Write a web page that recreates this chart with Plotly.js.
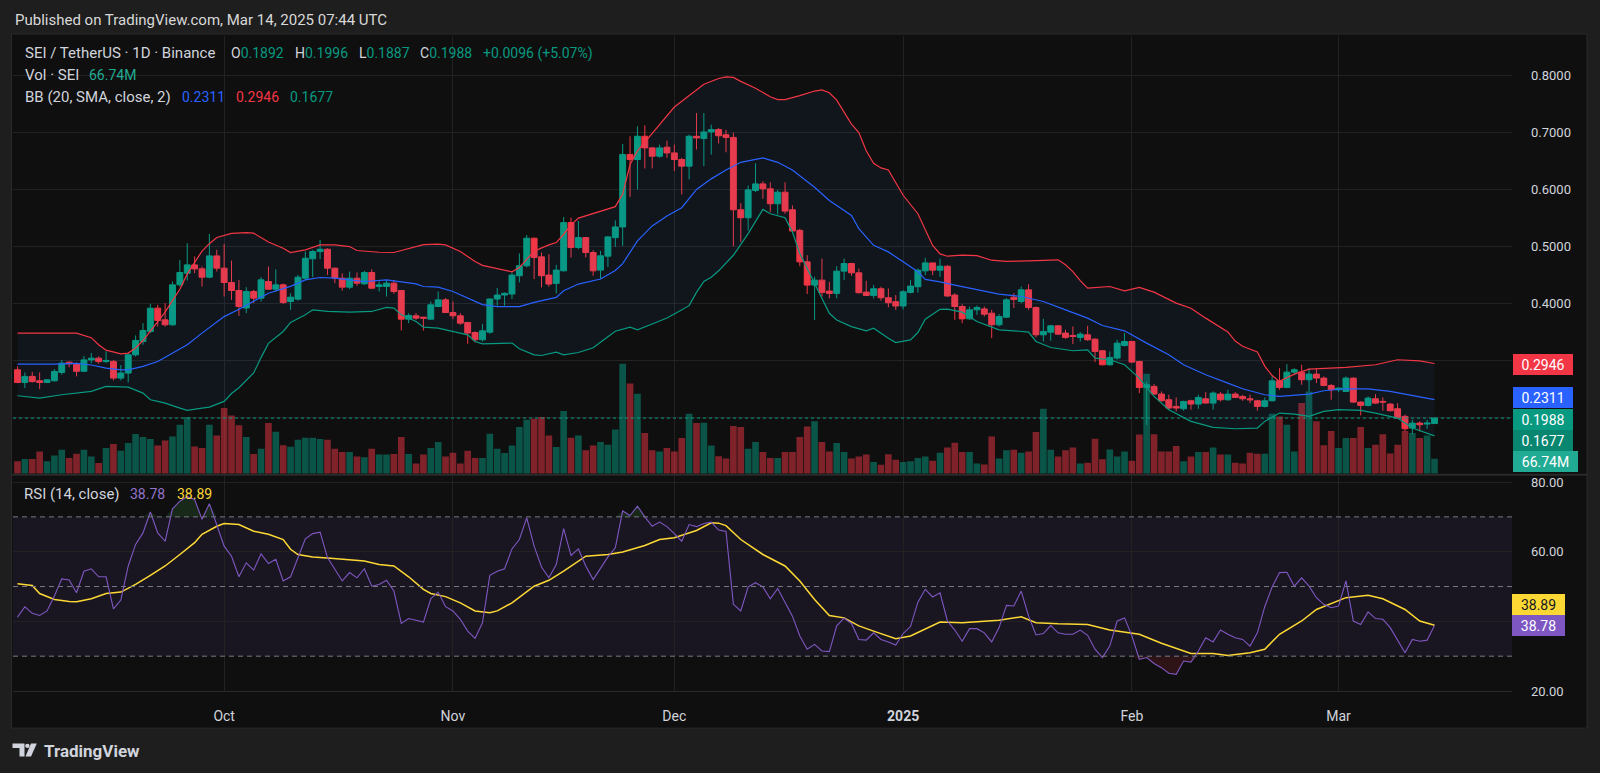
<!DOCTYPE html>
<html><head><meta charset="utf-8">
<script src="https://cdn.plot.ly/plotly-3.0.1.min.js"></script>
<style>html,body{margin:0;padding:0;background:#1e1e1e;}#chart{width:1600px;height:773px;}</style>
</head><body><div id="chart"></div>
<script>
// ---- DATA (daily candles from 2024-09-03, index = day offset) ----
const startDate = '2024-09-03';
const opens = [.2836,.2614,.272,.2643,.2614,.2643,.279,.297,.294,.281,.301,.304,.298,.298,.269,.2778,.3099,.3333,.3509,.3918,.3713,.3626,.4327,.4532,.4678,.4608,.4462,.4836,.462,.4368,.4228,
.392,.421,.4094,.4386,.4251,.4327,.4035,.4076,.4444,.4784,.4912,.4953,.462,.4444,.4287,.4444,.4345,.4544,.4298,.4298,.4357,.4228,.3725,.3784,.376,.3725,.3947,.4064,.3842,.3784,.3667,.3491,.3363,
.3496,.4079,.4149,.4166,.4487,.4662,.5146,.4819,.4499,.4353,.4574,.542,.4983,.5157,.4895,.4586,.4831,.5157,.5344,.6615,.6528,.6936,.6732,.6586,.6744,.6644,.6528,.6411,.6936,.6896,.7012,
.7053,.6963,.6916,.5646,.5506,.5984,.61,.6013,.5751,.5955,.5646,.5284,.4731,.4323,.441,.4218,.4177,.4568,.4702,.4538,.42,.4142,.4259,.4101,.4031,.3956,.4195,.4294,.4573,.4713,.4585,.4655,
.4148,.3947,.3731,.3889,.3905,.383,.3626,.376,.411,.4035,.424,.393,.345,.3497,.3608,.348,.3439,.3404,.345,.3374,.317,.2924,.3041,.3263,.3333,.2982,.2526,.2544,.241,.231,.2193,.2152,.2292,
.2234,.2327,.2251,.2409,.231,.2409,.2368,.2327,.2292,.2193,.2292,.2643,.2526,.2795,.2795,.2661,.276,.269,.2561,.2485,.2456,.269,.2269,.2211,.2327,.2281,.2234,.2152,.2018,.1813,.19,.1883,.1892];
const highs = [.2895,.279,.280,.279,.2672,.285,.301,.2982,.2965,.308,.313,.307,.316,.301,.292,.3129,.3439,.3655,.3994,.3977,.4006,.4386,.4766,.5058,.4825,.4649,.5222,.4942,.5047,.4754,.4415,
.4287,.424,.4462,.465,.460,.435,.418,.4503,.4912,.494,.5117,.497,.463,.453,.456,.4544,.4573,.460,.4386,.4415,.4415,.4228,.383,.383,.3765,.4035,.421,.4094,.4035,.383,.3667,.351,.3643,
.409,.4271,.4195,.4545,.4878,.5204,.5157,.4895,.4866,.4679,.5519,.5507,.5449,.5169,.4936,.4924,.5187,.5461,.6802,.6936,.7111,.7128,.675,.679,.686,.679,.6557,.6965,.7344,.7344,.714,
.708,.705,.70,.5762,.6071,.6462,.6147,.6129,.5995,.6129,.5722,.5313,.4847,.4469,.4789,.4381,.4655,.4789,.4714,.4614,.4399,.4323,.4294,.4265,.4148,.4235,.441,.4614,.4801,.4714,.4789,.4672,
.4181,.3988,.3947,.3965,.3947,.3889,.3813,.4094,.418,.4298,.4339,.3947,.3731,.3626,.3614,.3538,.3596,.3497,.3608,.3392,.3187,.3158,.3363,.348,.3345,.2994,.262,.2585,.2456,.2398,.2351,.2292,.231,
.2398,.2444,.2456,.2444,.2485,.2444,.2398,.2398,.231,.2351,.2719,.2865,.2936,.2865,.2924,.2865,.2865,.2719,.2585,.2526,.2719,.2702,.2281,.2368,.2409,.2351,.2251,.2251,.2047,.1959,.193,.1959,.1996];
const lows = [.2602,.2515,.261,.2497,.2602,.263,.275,.288,.272,.2795,.2953,.2942,.2953,.265,.265,.2614,.307,.3275,.348,.3596,.3596,.3608,.4298,.4404,.4532,.4298,.4444,.4561,.4123,.4064,.3784,
.383,.401,.4035,.424,.421,.399,.3889,.405,.4415,.4462,.478,.4503,.4357,.4228,.4251,.431,.4327,.4251,.421,.4123,.417,.3526,.3655,.3713,.3526,.3713,.3936,.383,.3725,.3626,.3292,.3316,.3333,
.347,.3962,.3962,.4079,.437,.4633,.4429,.4283,.4294,.4178,.4563,.4808,.4953,.4808,.4487,.4429,.4644,.4994,.5012,.5869,.6003,.637,.637,.6557,.6557,.6324,.5915,.6178,.6703,.6411,.6615,
.6811,.6654,.5005,.508,.5284,.5955,.5838,.5605,.5564,.5576,.5255,.4655,.4166,.3711,.4119,.409,.409,.441,.4486,.4177,.413,.409,.4049,.3932,.3886,.3897,.4177,.4189,.4498,.4498,.4469,.4119,
.3713,.3655,.3713,.3801,.3772,.3392,.3596,.3743,.392,.4006,.3889,.3404,.3333,.3345,.345,.338,.3287,.3333,.3345,.2971,.2912,.2906,.3012,.3246,.2953,.2427,.187,.2398,.2281,.2135,.2105,.2117,.2135,
.2152,.2251,.2135,.2281,.2292,.2339,.2292,.2251,.2117,.2175,.2281,.2485,.2515,.2749,.2573,.2456,.2602,.2544,.231,.2444,.2444,.2251,.2035,.2193,.2234,.2117,.2105,.1977,.1754,.1708,.1754,.1801,.1887];
const closes = [.2614,.272,.263,.2614,.266,.2807,.2953,.294,.281,.301,.304,.298,.300,.269,.278,.3099,.3351,.3526,.3918,.3702,.3626,.4327,.4544,.4678,.4608,.4462,.4836,.462,.4368,.4228,.3947,
.421,.4094,.4415,.4251,.4327,.4018,.4111,.4462,.4795,.4912,.4953,.462,.4444,.4287,.4444,.4357,.4544,.4269,.4327,.4357,.421,.3725,.379,.3743,.3743,.3977,.4064,.3842,.3784,.3655,.348,.3363,.352,
.4079,.4149,.4178,.4499,.4662,.5146,.4808,.4487,.4341,.4586,.542,.4983,.5157,.4895,.4574,.4837,.5169,.5344,.6615,.6528,.6936,.6732,.6586,.6732,.6644,.6528,.6411,.6936,.6907,.7012,.7053,
.6945,.6916,.5646,.5506,.5995,.61,.6013,.5751,.5955,.5622,.5273,.4731,.4323,.441,.4195,.4177,.4568,.4702,.4538,.4189,.4142,.4259,.4101,.4014,.3956,.4206,.4305,.4585,.4713,.4585,.4655,.4131,
.3947,.3731,.3889,.393,.3813,.3626,.3772,.4064,.407,.424,.393,.345,.3509,.3608,.3462,.3404,.3421,.3462,.3363,.3158,.2924,.3053,.3304,.3333,.2971,.2526,.2573,.241,.2292,.2164,.2164,.2281,.2234,
.2351,.2251,.2427,.231,.2409,.2351,.2327,.231,.2193,.2292,.2643,.2526,.2795,.2836,.2661,.276,.269,.2561,.2485,.2515,.269,.2269,.2211,.2339,.2251,.2269,.2117,.1988,.1801,.19,.1871,.19,.1988];
// volume, millions SEI
const volumes = [55,65,65,99,55,81,107,70,89,107,77,48,114,132,102,137,177,163,154,125,148,165,218,252,121,114,218,170,292,259,216,
163,88,111,226,187,126,120,151,160,160,154,151,111,97,97,76,73,111,85,85,88,163,88,45,85,114,141,76,93,45,102,70,70,
178,111,92,125,208,240,245,252,170,119,279,160,170,104,125,141,129,197,490,401,356,181,104,99,114,99,159,267,226,227,125,
78,67,212,208,111,141,97,70,70,97,97,163,210,233,141,99,137,97,67,77,85,52,40,86,62,52,55,70,77,57,93,117,
138,97,97,45,41,166,67,104,107,93,99,186,289,107,77,104,116,45,49,156,64,108,77,99,57,174,445,175,99,99,123,55,77,
97,97,116,85,85,49,45,93,89,89,267,255,218,99,315,366,233,126,190,114,159,159,208,114,129,175,90,129,190,181,159,170,66.74];
// Bollinger Bands (20, SMA, close, 2): [day offset, value]
const bbUpperDays = [0,4,8,10,11,12,14,15,16,17,18,19,20,21,22,23,24,25,26,27,29,31,32,34,36,37,39,41,43,45,46,49,51,53,55,57,58,60,62,63,65,67,68,69,70,72,73,74,75,76,78,79,81,82,83,84,86,87,89,91,93,95,96,97,98,100,102,103,104,106,108,109,110,111,112,113,114,115,116,117,118,120,122,124,125,126,128,130,132,134,137,141,142,143,144,145,148,150,152,154,157,159,161,164,165,166,168,169,170,171,173,175,180,184,187,190,192];
const bbUpper = [.348,.348,.348,.340,.3275,.318,.3117,.313,.322,.335,.352,.368,.385,.405,.425,.452,.472,.492,.505,.516,.523,.5246,.5235,.508,.497,.4895,.4942,.5029,.5029,.500,.493,.490,.4895,.4971,.5035,.5041,.503,.4912,.4737,.467,.461,.4557,.463,.478,.492,.503,.507,.5216,.538,.550,.558,.561,.570,.592,.644,.668,.698,.714,.745,.765,.785,.795,.798,.797,.790,.778,.763,.758,.758,.765,.773,.775,.770,.757,.737,.715,.700,.668,.646,.638,.6345,.590,.5576,.502,.487,.483,.485,.484,.476,.474,.475,.4766,.468,.4561,.440,.4269,.4298,.4222,.4281,.4199,.4006,.3918,.3743,.350,.334,.325,.315,.290,.2735,.2632,.276,.2848,.2877,.2924,.3012,.2994,.2946];
const bbMidDays = [0,5,8,10,12,14,15,17,19,21,23,25,27,28,30,32,34,37,39,41,43,45,47,50,51,54,55,57,59,61,63,65,68,70,73,74,76,79,81,82,83,84,86,88,90,92,94,95,96,98,101,103,105,108,110,113,114,116,118,120,122,123,125,127,129,133,136,139,142,145,147,150,153,156,158,161,164,166,169,171,175,177,180,183,186,189,192];
const bbMid = [.2936,.2936,.2950,.2920,.2865,.2836,.2836,.2895,.2982,.3129,.3275,.348,.368,.377,.390,.4035,.418,.430,.4415,.4456,.4444,.4415,.4386,.4415,.440,.4345,.4298,.4287,.421,.4094,.398,.3945,.3945,.402,.4108,.4224,.4341,.4429,.458,.470,.490,.510,.5362,.5536,.5682,.6003,.6188,.6265,.6345,.6479,.6555,.6479,.6345,.6042,.5809,.5547,.5314,.5022,.4906,.4731,.4556,.4422,.4381,.4323,.4269,.4164,.4123,.4035,.3889,.3743,.3614,.352,.3304,.3099,.2924,.2749,.2602,.2503,.2398,.2368,.2409,.2468,.2503,.250,.2456,.2386,.2311];
const bbLowerDays = [0,3,6,8,10,12,14,15,17,18,19,20,22,23,25,26,28,29,30,31,32,33,34,36,37,39,40,42,45,48,50,51,52,54,55,57,59,61,62,63,67,68,70,71,73,74,76,78,79,81,83,84,86,88,89,91,92,93,94,95,97,99,101,102,104,105,106,108,110,111,113,115,116,118,119,121,122,123,125,126,128,130,133,135,137,138,140,143,145,146,148,150,152,154,156,159,162,165,168,169,171,173,175,177,179,182,184,187,189,192];
const bbLower = [.238,.2339,.2398,.2427,.2456,.2544,.2544,.2532,.2427,.231,.2281,.2251,.2164,.2123,.2164,.2181,.2281,.242,.252,.265,.278,.305,.330,.3509,.3667,.3801,.3889,.386,.3848,.386,.393,.392,.3801,.3684,.3585,.3567,.3509,.345,.3333,.3292,.3304,.3204,.3099,.3087,.3146,.3099,.3140,.3222,.332,.3513,.3583,.3536,.3641,.3746,.3816,.3962,.4195,.4388,.4460,.4574,.4847,.5226,.5652,.5576,.5506,.5255,.4876,.4352,.3828,.3711,.3594,.3519,.3565,.339,.3315,.3361,.349,.3723,.3897,.3900,.3848,.3684,.3538,.352,.3497,.3333,.3228,.317,.3187,.3041,.3012,.2924,.269,.2368,.2135,.193,.1825,.1801,.1813,.193,.2076,.2059,.2018,.2105,.2135,.2123,.2076,.1988,.1813,.1677];
// RSI (14, close), one value per day
const rsi = [41.2,44.2,42.3,41.7,43.0,47.3,52.2,51.9,48.2,54.4,55.1,52.8,52.8,43.6,46.1,55.9,62.1,65.4,71.4,65.4,63.0,72.3,74.5,75.8,75.0,69.3,73.8,67.8,61.6,58.7,52.8,
56.8,54.7,59.4,56.6,57.8,51.6,52.8,58.5,63.7,65.2,65.6,58.3,54.9,51.6,54.0,52.5,55.1,50.1,50.6,51.8,48.7,39.4,40.8,40.4,39.8,46.5,48.4,44.2,43.0,40.6,37.2,35.1,39.6,
53.2,54.4,55.1,60.8,63.5,69.7,61.6,55.6,52.5,56.3,66.6,58.9,60.8,55.9,52.0,55.1,58.5,61.1,71.7,70.4,73.1,70.0,67.3,68.5,67.2,65.2,63.0,67.8,67.2,68.1,68.5,
66.2,65.8,44.9,43.0,49.9,51.1,49.9,46.5,49.4,45.5,41.5,35.8,32.0,33.4,31.5,31.3,38.7,40.9,39.4,34.8,34.6,36.7,34.8,34.1,33.2,36.5,38.5,45.5,49.2,47.0,48.2,40.1,
37.5,34.3,37.9,37.9,36.7,34.1,38.2,44.6,44.4,48.7,41.5,36.1,36.5,38.8,36.7,36.3,36.3,37.5,36.0,32.0,29.6,32.9,40.1,41.0,35.8,29.1,29.6,27.9,26.7,25.1,24.8,28.6,28.3,
31.5,35.3,34.1,37.5,36.3,35.3,34.8,32.9,36.7,44.2,49.9,54.0,54.1,50.1,52.5,50.1,46.8,44.9,43.9,44.4,51.6,40.1,39.1,42.7,40.8,40.6,38.2,34.8,31.0,34.8,34.3,34.6,38.78];
// RSI-based MA (SMA 14)
const rsiMaDays = [0,2,3,5,7,8,10,12,14,16,18,20,22,24,25,27,28,30,32,34,36,37,38,40,42,44,47,49,51,53,55,56,58,60,62,64,65,67,70,72,74,77,80,82,85,87,89,92,94,95,96,98,101,104,106,108,110,112,114,116,119,121,123,125,128,131,133,136,138,141,145,148,152,155,159,162,164,167,169,171,174,176,178,180,183,185,188,190,192];
const rsiMa = [50.8,50.3,48.0,46.3,45.7,45.6,46.5,48.0,48.4,50.6,53.2,55.9,59.2,62.6,65.0,67.3,68.1,67.8,65.9,65.0,63.5,60.7,59.2,58.5,58.2,57.8,57.3,56.3,55.9,52.8,49.2,48.0,47.1,45.3,43.0,42.5,43.0,45.3,50.1,51.8,54.4,58.7,59.2,59.9,61.8,63.5,64.0,66.1,68.3,68.2,67.5,63.5,59.2,55.9,51.6,46.3,41.7,41.0,38.7,37.2,35.0,35.8,37.9,39.8,39.6,40.1,40.3,41.3,39.6,39.3,39.1,37.5,36.3,33.7,30.8,30.8,30.2,31.0,32.0,36.3,40.1,43.4,45.2,46.8,47.5,46.5,43.4,40.1,38.89];
const monthTicks = ['2024-10-01','2024-11-01','2024-12-01','2025-01-01','2025-02-01','2025-03-01'];
const monthLabels = ['Oct','Nov','Dec','<b>2025</b>','Feb','Mar'];
const priceTicks = [0.2,0.3,0.4,0.5,0.6,0.7,0.8];
const priceTickText = ['','','0.4000','0.5000','0.6000','0.7000','0.8000'];
const rsiTicks = [20,40,60,80];
const rsiTickText = ['20.00','','60.00','80.00'];

// ---- helpers ----
const DAY = 86400000;
const t0 = Date.parse(startDate + 'T00:00:00Z');
function fmt(ms){ return new Date(ms).toISOString().replace('T',' ').replace('Z',''); }
function d(i){ return fmt(t0 + i*DAY); }
const dates = closes.map((_, i) => d(i));
const G = '#089981', R = '#F23645', B = '#2962FF', P = '#7E57C2', Y = '#FDD835';
// pixel -> paper (plot area: x 13..1512, y 36..691.5)
const L0 = 13, R0 = 1512, T0 = 36, B0 = 691.5;
const px = X => (X - L0) / (R0 - L0);
const py = Yp => (B0 - Yp) / (B0 - T0);
const priceDomBottom = py(474), rsiDomTop = py(476);

const traces = [];
// volume (base axis y)
traces.push({type:'bar', x: dates, y: volumes, xaxis:'x', yaxis:'y',
  marker:{color: volumes.map((v,i)=> closes[i] >= opens[i] ? 'rgba(8,153,129,0.5)' : 'rgba(242,54,69,0.5)'), line:{width:0}},
  hoverinfo:'skip'});
// BB
traces.push({type:'scatter', mode:'lines', x: bbUpperDays.map(d), y: bbUpper, xaxis:'x', yaxis:'y2', line:{color:R, width:1.2}, hoverinfo:'skip'});
traces.push({type:'scatter', mode:'lines', x: bbLowerDays.map(d), y: bbLower, xaxis:'x', yaxis:'y2', line:{color:G, width:1.2}, fill:'tonexty', fillcolor:'rgba(33,150,243,0.055)', hoverinfo:'skip'});
traces.push({type:'scatter', mode:'lines', x: bbMidDays.map(d), y: bbMid, xaxis:'x', yaxis:'y2', line:{color:B, width:1.2}, hoverinfo:'skip'});
// candles
traces.push({type:'candlestick', x: dates, open: opens, high: highs, low: lows, close: closes, xaxis:'x', yaxis:'y2',
  increasing:{line:{color:G, width:1}, fillcolor:G}, decreasing:{line:{color:R, width:1}, fillcolor:R},
  whiskerwidth:0, hoverinfo:'skip'});
// RSI fills (overbought / oversold)
traces.push({type:'scatter', mode:'lines', x: dates, y: rsi.map(()=>70), xaxis:'x', yaxis:'y3', line:{width:0, color:'rgba(0,0,0,0)'}, hoverinfo:'skip'});
traces.push({type:'scatter', mode:'lines', x: dates, y: rsi.map(v=>Math.max(v,70)), xaxis:'x', yaxis:'y3', line:{width:0, color:'rgba(0,0,0,0)'}, fill:'tonexty', fillcolor:'rgba(76,175,80,0.16)', hoverinfo:'skip'});
traces.push({type:'scatter', mode:'lines', x: dates, y: rsi.map(()=>30), xaxis:'x', yaxis:'y3', line:{width:0, color:'rgba(0,0,0,0)'}, hoverinfo:'skip'});
traces.push({type:'scatter', mode:'lines', x: dates, y: rsi.map(v=>Math.min(v,30)), xaxis:'x', yaxis:'y3', line:{width:0, color:'rgba(0,0,0,0)'}, fill:'tonexty', fillcolor:'rgba(242,54,69,0.14)', hoverinfo:'skip'});
traces.push({type:'scatter', mode:'lines', x: rsiMaDays.map(d), y: rsiMa, xaxis:'x', yaxis:'y3', line:{color:Y, width:1.5}, hoverinfo:'skip'});
traces.push({type:'scatter', mode:'lines', x: dates, y: rsi, xaxis:'x', yaxis:'y3', line:{color:P, width:1.1}, hoverinfo:'skip'});

const FONT = 'Roboto, "Noto Sans", sans-serif';
const TXT = '#d1d4dc';
const ann = [];
function label(X, Yc, text, color, size, extra){ ann.push(Object.assign({xref:'paper', yref:'paper', x:px(X), y:py(Yc), xanchor:'left', yanchor:'middle', showarrow:false, text:text, font:{family:FONT, size:size||14, color:color||TXT}}, extra||{})); }
label(13, 19.5, 'Published on TradingView.com, Mar 14, 2025 07:44 UTC', '#d9d9d9', 15);
label(23, 53.5, 'SEI / TetherUS · 1D · Binance', TXT, 15);
label(229, 53.5, 'O<span style="color:'+G+'">0.1892</span>', TXT, 14);
label(292.8, 53.5, 'H<span style="color:'+G+'">0.1996</span>', TXT, 14);
label(357, 53.5, 'L<span style="color:'+G+'">0.1887</span>', TXT, 14);
label(418.3, 53.5, 'C<span style="color:'+G+'">0.1988</span>', TXT, 14);
label(481.4, 53.5, '+0.0096 (+5.07%)', G, 14);
label(23, 75, 'Vol · SEI', TXT, 15);
label(86.5, 75, '66.74M', '#22AB94', 14);
label(23, 96.7, 'BB (20, SMA, close, 2)', TXT, 15);
label(180, 96.7, '0.2311', B, 14);
label(234, 96.7, '0.2946', R, 14);
label(288, 96.7, '0.1677', G, 14);
label(22.3, 494, 'RSI (14, close)', TXT, 15);
label(128, 494, '38.78', '#9575CD', 14);
label(174.6, 494, '38.89', Y, 14);
label(41.7, 751.3, '<b>TradingView</b>', '#d1d4dc', 17);
function tag(X, Yc, w, text, bg, fg){ ann.push({xref:'paper', yref:'paper', x:px(X), y:py(Yc), xanchor:'left', yanchor:'middle', showarrow:false, text:text, bgcolor:bg, borderpad:3, borderwidth:0, width:w-6, height:15, align:'center', font:{family:FONT, size:14, color:fg||'#ffffff'}}); }
tag(1513, 364.5, 60, '0.2946', R);
tag(1513, 397.7, 60, '0.2311', B);
tag(1513, 419.6, 60, '0.1988', G);
tag(1513, 440.5, 60, '0.1677', '#08866f');
tag(1513, 462.2, 65, '66.74M', '#22AB94');
tag(1512, 604.5, 53, '38.89', Y, '#131722');
tag(1512, 626.4, 53, '38.78', P);

const shapes = [];
// chart frame
shapes.push({type:'rect', xref:'paper', yref:'paper', x0:px(11.5), x1:px(1587), y0:py(34), y1:py(728.7), fillcolor:'#0f0f0f', line:{color:'#2a2a2a', width:1}, layer:'below'});
// pane separator
shapes.push({type:'line', xref:'paper', yref:'paper', x0:px(12), x1:px(1587), y0:py(475), y1:py(475), line:{color:'#2a2a2a', width:2}, layer:'above'});
// RSI band and levels
shapes.push({type:'rect', xref:'paper', yref:'y3', x0:0, x1:1, y0:30, y1:70, fillcolor:'rgba(126,87,194,0.1)', line:{width:0}, layer:'below'});
[70,50,30].forEach(v => shapes.push({type:'line', xref:'paper', yref:'y3', x0:0, x1:1, y0:v, y1:v, line:{color:'#787B86', width:1, dash:'5px,4px'}, layer:'above'}));
// last price line
shapes.push({type:'line', xref:'paper', yref:'y2', x0:0, x1:1, y0:0.1988, y1:0.1988, line:{color:G, width:1, dash:'dot'}, layer:'above'});
// TradingView logo
shapes.push({type:'path', xref:'paper', yref:'paper', path:'M '+px(12.5)+','+py(744)+' L '+px(24.5)+','+py(744)+' L '+px(24.5)+','+py(757)+' L '+px(19.5)+','+py(757)+' L '+px(19.5)+','+py(748.5)+' L '+px(12.5)+','+py(748.5)+' Z', fillcolor:'#d1d4dc', line:{width:0}});
shapes.push({type:'circle', xref:'paper', yref:'paper', x0:px(25.2), x1:px(29.6), y0:py(744.2), y1:py(748.6), fillcolor:'#d1d4dc', line:{width:0}});
shapes.push({type:'path', xref:'paper', yref:'paper', path:'M '+px(31)+','+py(744)+' L '+px(36.8)+','+py(744)+' L '+px(31)+','+py(757)+' L '+px(25.5)+','+py(757)+' Z', fillcolor:'#d1d4dc', line:{width:0}});

const GRID = '#222222';
const layout = {
  width:1600, height:773, paper_bgcolor:'#1e1e1e', plot_bgcolor:'rgba(0,0,0,0)',
  margin:{l:L0, r:1600-R0, t:T0, b:773-B0, pad:0},
  showlegend:false, boxgap:0.2, boxgroupgap:0, bargap:0.1,
  font:{family:FONT, color:TXT, size:13},
  xaxis:{type:'date', domain:[0,1], anchor:'y3', range:[fmt(t0-0.61*DAY), fmt(t0+202.5*DAY)],
    tickvals:monthTicks, ticktext:monthLabels, showgrid:true, gridcolor:GRID, gridwidth:1,
    showline:true, linecolor:'#2a2a2a', linewidth:1, ticks:'', ticklabelstandoff:12,
    tickfont:{family:FONT, size:14, color:TXT}, rangeslider:{visible:false}, zeroline:false, fixedrange:true},
  yaxis:{domain:[priceDomBottom,1], range:[0, 438*4.45], visible:false, showgrid:false, zeroline:false, fixedrange:true},
  yaxis2:{overlaying:'y', side:'right', anchor:'x', range:[0.3-(474-360.7)/570, 0.3+(360.7-36)/570],
    tickvals:priceTicks, ticktext:priceTickText, showgrid:true, gridcolor:GRID, zeroline:false, ticks:'',
    ticklabelstandoff:18, tickfont:{family:FONT, size:13, color:TXT}, showline:false, fixedrange:true},
  yaxis3:{domain:[0,rsiDomTop], side:'right', anchor:'x', range:[20, 20+(691.5-476)/3.485],
    tickvals:rsiTicks, ticktext:rsiTickText, showgrid:true, gridcolor:GRID, zeroline:false, ticks:'',
    ticklabelstandoff:18, tickfont:{family:FONT, size:13, color:TXT}, showline:false, fixedrange:true},
  annotations:ann, shapes:shapes
};
Plotly.newPlot('chart', traces, layout, {staticPlot:true, displayModeBar:false});
</script></body></html>
